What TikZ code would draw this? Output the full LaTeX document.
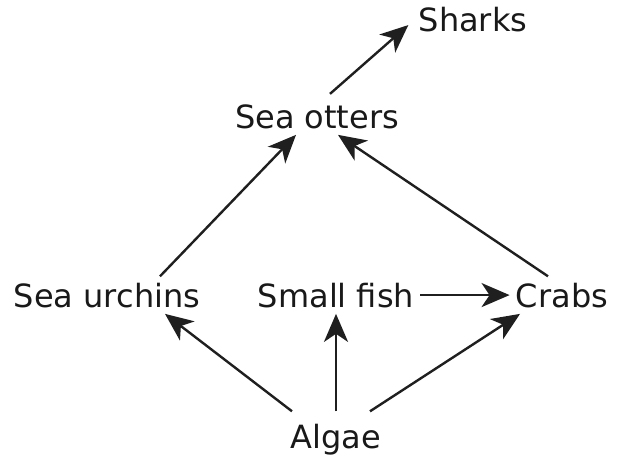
\documentclass[tikz,border=0pt]{standalone}
\usepackage{fontspec}
\setmainfont{DejaVu Sans}
\usetikzlibrary{arrows.meta}

\begin{document}
\begin{tikzpicture}[x=0.5pt,y=-0.5pt,
  every node/.style={font=\fontsize{16}{19}\selectfont,inner sep=3pt,anchor=base,text=black!90},
  feeds/.style={-{Stealth[length=14pt,width=12pt,inset=4pt]},line width=1.2pt,black!88}]
  \useasboundingbox (0,0) rectangle (619,456);
  %top
  \node (sharks) at (473,31) {Sharks};
  \node (otters) at (317,128) {Sea otters};
  %middle row
  \node (urchins) at (107,307) {Sea urchins};
  \node (fish) at (336,307) {Small fish};
  \node (crabs) at (562,307) {Crabs};
  %bottom
  \node (algae) at (336,448) {Algae};

  \draw[feeds] ([xshift=6.5pt,yshift=2pt]otters.north) -- ([xshift=-2pt,yshift=-3pt]sharks.west);
  \draw[feeds] ([xshift=26.5pt]urchins.north) -- ([xshift=-10.5pt]otters.south);
  \draw[feeds] ([xshift=-7pt]crabs.north) -- ([xshift=10.5pt]otters.south);
  \draw[feeds] (fish.east) -- (crabs.west);
  \draw[feeds] ([xshift=-22pt,yshift=3pt]algae.north) -- ([xshift=29pt]urchins.south);
  \draw[feeds] ([yshift=3pt]algae.north) -- (fish.south);
  \draw[feeds] ([xshift=17pt,yshift=3pt]algae.north) -- ([xshift=-21pt]crabs.south);
\end{tikzpicture}
\end{document}
